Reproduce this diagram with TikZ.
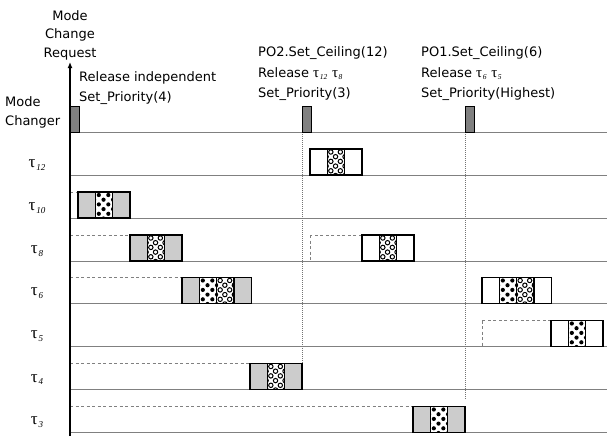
\documentclass[tikz,border=0pt]{standalone}
\usepackage{fontspec}
\setmainfont{DejaVu Sans}
\newfontfamily\grk{Liberation Serif}
\usetikzlibrary{arrows.meta}

\newcommand\segw{17.33}
\newcommand\tk[2]{{\grk τ\kern0.04em\raisebox{-0.35ex}{\fontsize{#2}{#2}\selectfont\itshape #1}}}
% one job: left x, top y, list of segment styles
\newcommand\job[3]{\foreach \s [count=\i from 0] in {#3}
  {\draw[seg, \s] ({#1+\segw*\i},#2) rectangle ++(\segw,26);}}

\begin{document}
\begin{tikzpicture}[
  x=1pt, y=-1pt,
  font=\fontsize{13}{20.5}\selectfont,
  lane/.style={draw=black!50, line width=0.9pt},
  idle/.style={draw=black!50, dash pattern=on 3pt off 2.5pt, line width=0.8pt},
  switch/.style={draw=black!55, dash pattern=on 1pt off 1pt, line width=0.8pt},
  axis/.style={draw=black, line width=1.4pt, -{Latex[length=6pt,width=5pt]}},
  mc/.style={draw=black, fill=black!50, line width=1pt},
  label/.style={anchor=north west, align=left, inner sep=0},
  seg/.style={draw=black, line width=1.1pt},
  gseg/.style={fill=black!20},
  wseg/.style={fill=white},
  dseg/.style={fill=white, path picture={
    \foreach \yy in {3,12.4,21.8} \foreach \xx in {3.5,13}
      \fill[black] ([shift={(\xx pt,-\yy pt)}]path picture bounding box.north west) circle (2.1pt);
    \foreach \yy in {7.7,17.1,26.5} \foreach \xx in {-1.2,8.2,17.7}
      \fill[black] ([shift={(\xx pt,-\yy pt)}]path picture bounding box.north west) circle (2.1pt);}},
  rseg/.style={fill=white, path picture={
    \foreach \yy in {3,12.4,21.8} \foreach \xx in {3.5,13}
      \draw[black, line width=1pt] ([shift={(\xx pt,-\yy pt)}]path picture bounding box.north west) circle (2.2pt);
    \foreach \yy in {7.7,17.1,26.5} \foreach \xx in {-1.2,8.2,17.7}
      \draw[black, line width=1pt] ([shift={(\xx pt,-\yy pt)}]path picture bounding box.north west) circle (2.2pt);}}
]
\useasboundingbox (0,0) rectangle (607,436);

% lanes and task names
\foreach \yl in {132,175,218,261,303.5,346.5,389.5,432.5}
  \draw[lane] (70,\yl) -- (607,\yl);
\foreach \n/\yl in {12/175,10/218,8/261,6/303.5,5/346.5,4/389.5,3/432.5}
  \node (t\n) at (37,\yl-10) {\fontsize{17}{17}\selectfont\tk{\n}{9}};

% mode changes
\draw[switch] (302,132) -- (302,363.5);
\draw[switch] (465,132) -- (465,399);
\draw[mc] (70,106) rectangle ++(9,26);
\draw[mc] (302,106) rectangle ++(9,26);
\draw[mc] (465,106) rectangle ++(9,26);

% waiting
\draw[idle] (70,192) -- (78,192);
\draw[idle] (70,235) -- (130,235);
\draw[idle] (70,277.5) -- (182,277.5);
\draw[idle] (70,363.5) -- (250,363.5);
\draw[idle] (70,406.5) -- (413,406.5);
\draw[idle] (310,235) rectangle (362,261);
\draw[idle] (482,320.5) rectangle (551,346.5);

% executions
\job{78}{192}{gseg,dseg,gseg}
\job{130}{235}{gseg,rseg,gseg}
\job{182}{277.5}{gseg,dseg,rseg,gseg}
\job{250}{363.5}{gseg,rseg,gseg}
\job{310}{149}{wseg,rseg,wseg}
\job{362}{235}{wseg,rseg,wseg}
\job{413}{406.5}{gseg,dseg,gseg}
\job{482}{277.5}{wseg,dseg,rseg,wseg}
\job{551}{320.5}{wseg,dseg,wseg}

\coordinate (bot) at (70,436);
\coordinate (top) at (70,62);
\draw[axis] (bot) -- (top);

\node[align=center, inner sep=0, font=\fontsize{13}{18.5}\selectfont] (req) at (70,35)
  {Mode\\Change\\Request};
\node[anchor=west, align=left, inner sep=0, font=\fontsize{13}{19}\selectfont] (chg) at (5,112.5)
  {Mode\\Changer};
\node[label] (rel) at (79,71.1) {Release independent\\Set\_Priority(4)};
\node[label] (po2) at (258,46.5)
  {PO2.Set\_Ceiling(12)\\Release {\fontsize{15}{15}\selectfont\tk{12}{7.5} \tk{8}{7.5}}\\Set\_Priority(3)};
\node[label] (po1) at (421,46.5)
  {PO1.Set\_Ceiling(6)\\Release {\fontsize{15}{15}\selectfont\tk{6}{7.5} \tk{5}{7.5}}\\Set\_Priority(Highest)};
\end{tikzpicture}
\end{document}
